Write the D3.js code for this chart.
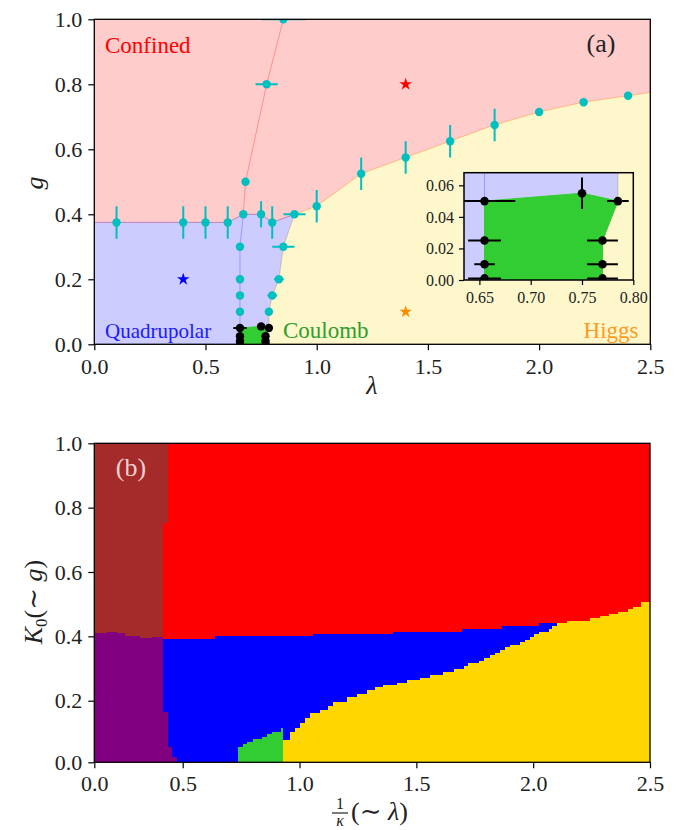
<!DOCTYPE html>
<html><head><meta charset="utf-8">
<script src="https://cdnjs.cloudflare.com/ajax/libs/d3/7.8.5/d3.min.js"></script>
<style>
body{margin:0;background:#fff}
svg{display:block}
text{font-family:"Liberation Serif","DejaVu Serif","Noto Serif",serif}
</style>
</head><body>
<svg id="chart" width="681" height="830"></svg>
<script>
// ================= Panel (a) data =================
// cyan data points (lambda, g) with error bars
const cyanLambda    = [0.1, 0.4, 0.5, 0.6, 0.67, 0.75, 0.8, 0.9, 1.0, 0.655, 0.655, 0.655, 0.655, 0.85, 0.83, 0.8, 0.785, 0.68, 0.775, 0.85, 1.2, 1.4, 1.6, 1.8, 2.0, 2.2, 2.4];
const cyanG         = [0.375, 0.375, 0.375, 0.375, 0.4, 0.4, 0.375, 0.4, 0.425, 0.3, 0.2, 0.15, 0.1, 0.3, 0.2, 0.15, 0.1, 0.5, 0.8, 1.0, 0.525, 0.575, 0.625, 0.675, 0.715, 0.745, 0.765];
const cyanLambdaErr = [0, 0, 0, 0, 0, 0, 0, 0.05, 0, 0, 0, 0, 0, 0.05, 0.022, 0.022, 0, 0, 0.05, 0.1, 0, 0, 0, 0, 0, 0, 0];
const cyanGErr      = [0.05, 0.05, 0.05, 0.05, 0, 0.04, 0.05, 0, 0.05, 0, 0, 0, 0, 0, 0, 0, 0, 0, 0, 0, 0.05, 0.05, 0.05, 0.05, 0, 0, 0];

// black (Coulomb) data points
const blackLambda    = [0.655, 0.655, 0.655, 0.655, 0.75, 0.785, 0.77, 0.77, 0.77];
const blackG         = [0.05, 0.025, 0.01, 0.001, 0.055, 0.05, 0.025, 0.01, 0.001];
const blackLambdaErr = [0.03, 0.016, 0.01, 0.016, 0, 0.0105, 0.015, 0.015, 0.015];
const blackGErr      = [0, 0, 0, 0, 0.01, 0, 0, 0, 0];

// stars
const starLambda = [1.4, 0.4, 1.4];
const starG      = [0.8, 0.2, 0.1];
const starColor  = ["#ff0000", "#0000ff", "#ff8c00"];

// phase boundaries
const confinedEdgeLambda = [0, 0.6, 0.67, 0.75, 0.8, 0.9, 1.0, 1.2, 1.4, 1.6, 1.8, 2.0, 2.2, 2.4, 2.5];
const confinedEdgeG      = [0.375, 0.375, 0.4, 0.4, 0.375, 0.4, 0.425, 0.525, 0.575, 0.625, 0.675, 0.715, 0.745, 0.765, 0.775];
const higgsEdgeLambda = [0.77, 0.77, 0.785, 0.785, 0.8, 0.83, 0.85, 0.9];
const higgsEdgeG      = [0, 0.025, 0.05, 0.1, 0.15, 0.2, 0.3, 0.4];
const coulombLambda = [0.655, 0.655, 0.75, 0.785, 0.77, 0.77];
const coulombG      = [0, 0.05, 0.055, 0.05, 0.025, 0];
const pinkLineLambda = [0.67, 0.68, 0.775, 0.85];
const pinkLineG      = [0.4, 0.5, 0.8, 1.0];
const blueLineLambda = [0.655, 0.655, 0.67];
const blueLineG      = [0.05, 0.3, 0.4];

const ticksA  = [0, 0.5, 1.0, 1.5, 2.0, 2.5];
const ticksAy = [0, 0.2, 0.4, 0.6, 0.8, 1.0];
const insetTicksX = [0.65, 0.70, 0.75, 0.80];
const insetTicksY = [0, 0.02, 0.04, 0.06];

// ================= Panel (b) data (step boundaries) =================
const brownRightLambda = [0.415, 0.39];
const brownRightTopG   = [1.0, 0.752];
const purpleTopLambda = [0, 0.070, 0.098, 0.127, 0.174, 0.258, 0.325];
const purpleTopG      = [0.41, 0.413, 0.415, 0.41, 0.402, 0.394, 0.399];
const purpleRightLambda  = [0.39, 0.415, 0.441, 0.469];
const purpleRightBottomG = [0.164, 0.051, 0.018, 0];
const blueTopLambda = [0.39, 0.638, 1.057, 1.40, 1.695, 1.866, 2.023];
const blueTopG      = [0.391, 0.401, 0.408, 0.415, 0.423, 0.431, 0.44];
const blueEnd = 2.102;
const yellowTopLambda = [0.93, 0.96, 0.981, 1.002, 1.024, 1.045, 1.088, 1.124, 1.145, 1.202, 1.245, 1.288, 1.324, 1.359, 1.417, 1.459, 1.516, 1.559, 1.616, 1.659, 1.702, 1.723, 1.766, 1.788, 1.816, 1.838, 1.859, 1.880, 1.902, 1.945, 1.966, 1.988, 2.002, 2.023, 2.066, 2.081, 2.102, 2.145, 2.242, 2.285, 2.325, 2.362, 2.404, 2.427, 2.463];
const yellowTopG      = [0.072, 0.099, 0.110, 0.127, 0.143, 0.159, 0.170, 0.183, 0.197, 0.213, 0.221, 0.234, 0.242, 0.248, 0.256, 0.264, 0.271, 0.279, 0.289, 0.298, 0.308, 0.316, 0.324, 0.333, 0.341, 0.349, 0.357, 0.366, 0.373, 0.381, 0.390, 0.398, 0.406, 0.415, 0.423, 0.432, 0.4425, 0.448, 0.456, 0.464, 0.470, 0.477, 0.485, 0.492, 0.506];
const yellowEnd = 2.5;
const greenTopLambda = [0.738, 0.760, 0.777, 0.802, 0.838, 0.860, 0.881, 0.920];
const greenTopG      = [0.051, 0.059, 0.067, 0.075, 0.083, 0.092, 0.099, 0.110];
const greenEnd = 0.93;

const ticksB  = [0, 0.5, 1.0, 1.5, 2.0, 2.5];
const ticksBy = [0, 0.2, 0.4, 0.6, 0.8, 1.0];

// ================= drawing =================
const FONT = '"Liberation Serif","DejaVu Serif","Noto Serif",serif';
const svg = d3.select("#chart");
const defs = svg.append("defs");
const zip = (a, b) => a.map((v, i) => [v, b[i]]);

function styleAxis(g, fs) {
  g.attr("font-family", null);
  g.select(".domain").remove();
  g.selectAll(".tick line").attr("stroke", "#000").attr("stroke-width", 1.2);
  g.selectAll(".tick text").attr("fill", "#222").style("font-family", FONT).style("font-size", fs + "px");
}

// ---------- Panel (a) ----------
const A = {l: 94.3, r: 650.3, t: 19.3, b: 344.3};
const xA = d3.scaleLinear().domain([0, 2.5]).range([A.l, A.r]);
const yA = d3.scaleLinear().domain([0, 1]).range([A.b, A.t]);

const confinedEdge = zip(confinedEdgeLambda, confinedEdgeG);
const higgsEdge = zip(higgsEdgeLambda, higgsEdgeG);
const triple = confinedEdgeLambda.indexOf(0.9);
const pinkPoly = [[0, 1], [2.5, 1], ...confinedEdge.slice().reverse()];
const lavPoly = [[0, 0], ...confinedEdge.slice(0, triple + 1), ...higgsEdge.slice().reverse()];
const yellowPoly = [...higgsEdge, ...confinedEdge.slice(triple + 1), [2.5, 0]];
const coulombPoly = zip(coulombLambda, coulombG);

function drawPhase(g, x, y, r, ew) {
  const line = d3.line().x(d => x(d[0])).y(d => y(d[1]));
  const poly = (pts, c) => g.append("path").attr("d", line(pts) + "Z")
    .attr("fill", c).attr("fill-opacity", 0.2)
    .attr("stroke", c).attr("stroke-opacity", 0.2).attr("stroke-width", 1);
  poly(pinkPoly, "#ff0000");
  poly(lavPoly, "#0000ff");
  poly(yellowPoly, "#ffd700");
  g.append("path").attr("d", line(coulombPoly) + "Z").attr("fill", "#32cd32")
    .attr("stroke", "#32cd32").attr("stroke-width", 1);
  g.append("path").attr("d", line(zip(pinkLineLambda, pinkLineG))).attr("fill", "none")
    .attr("stroke", "#ff0000").attr("stroke-opacity", 0.3).attr("stroke-width", 1);
  g.append("path").attr("d", line(zip(blueLineLambda, blueLineG))).attr("fill", "none")
    .attr("stroke", "#0000ff").attr("stroke-opacity", 0.25).attr("stroke-width", 1);

  function errs(ls, gs, le, ge, col) {
    ls.forEach((l, i) => {
      if (le[i] > 0) g.append("line").attr("x1", x(l - le[i])).attr("x2", x(l + le[i]))
        .attr("y1", y(gs[i])).attr("y2", y(gs[i])).attr("stroke", col).attr("stroke-width", ew);
      if (ge[i] > 0) g.append("line").attr("x1", x(l)).attr("x2", x(l))
        .attr("y1", y(gs[i] - ge[i])).attr("y2", y(gs[i] + ge[i])).attr("stroke", col).attr("stroke-width", ew);
    });
    g.selectAll(null).data(ls).enter().append("circle")
      .attr("cx", d => x(d)).attr("cy", (d, i) => y(gs[i])).attr("r", r).attr("fill", col);
  }
  errs(cyanLambda, cyanG, cyanLambdaErr, cyanGErr, "#00bfbf");
  errs(blackLambda, blackG, blackLambdaErr, blackGErr, "#000");

  g.selectAll(null).data(starLambda).enter().append("path")
    .attr("d", d3.symbol(d3.symbolStar, 50))
    .attr("transform", (d, i) => `translate(${x(d)},${y(starG[i])})`)
    .attr("fill", (d, i) => starColor[i]);
}

defs.append("clipPath").attr("id", "clipA").append("rect")
  .attr("x", A.l).attr("y", A.t).attr("width", A.r - A.l).attr("height", A.b - A.t);
const gA = svg.append("g").attr("clip-path", "url(#clipA)");
drawPhase(gA, xA, yA, 4.2, 2);

// labels in panel (a)
const lab = (x, y, t, c, fs, anchor) => svg.append("text").attr("x", x).attr("y", y).text(t)
  .attr("fill", c).style("font-family", FONT).style("font-size", fs + "px").attr("text-anchor", anchor || "start");
lab(105, 52.7, "Confined", "#ff0000", 23);
lab(601, 52, "(a)", "#222", 26, "middle");
lab(105, 338.3, "Quadrupolar", "#1a1aff", 21);
lab(283, 338.3, "Coulomb", "#2ca02c", 23);
lab(638.5, 338.3, "Higgs", "#ff9a1f", 23, "end");

svg.append("rect").attr("x", A.l).attr("y", A.t).attr("width", A.r - A.l).attr("height", A.b - A.t)
  .attr("fill", "none").attr("stroke", "#000").attr("stroke-width", 1.3);
const axA = svg.append("g").attr("transform", `translate(0,${A.b})`)
  .call(d3.axisBottom(xA).tickValues(ticksA).tickFormat(d3.format(".1f")).tickSize(6).tickPadding(8));
styleAxis(axA, 22);
const ayA = svg.append("g").attr("transform", `translate(${A.l},0)`)
  .call(d3.axisLeft(yA).tickValues(ticksAy).tickFormat(d3.format(".1f")).tickSize(6).tickPadding(6));
styleAxis(ayA, 22);
svg.append("text").attr("x", 372).attr("y", 394).attr("text-anchor", "middle").style("font-family", FONT)
  .style("font-size", "26px").style("font-style", "italic").attr("fill", "#222").text("λ");
svg.append("text").attr("transform", "translate(43,183) rotate(-90)").attr("text-anchor", "middle").style("font-family", FONT)
  .style("font-size", "26px").style("font-style", "italic").attr("fill", "#222").text("g");

// ---------- Inset ----------
const I = {l: 464, r: 633.3, t: 172.7, b: 280};
const xI = d3.scaleLinear().domain([0.635, 0.8]).range([I.l, I.r]);
const yI = d3.scaleLinear().domain([0, 0.068]).range([I.b, I.t]);
defs.append("clipPath").attr("id", "clipI").append("rect")
  .attr("x", I.l).attr("y", I.t).attr("width", I.r - I.l).attr("height", I.b - I.t);
svg.append("rect").attr("x", I.l).attr("y", I.t).attr("width", I.r - I.l).attr("height", I.b - I.t).attr("fill", "#fff");
const gI = svg.append("g").attr("clip-path", "url(#clipI)");
drawPhase(gI, xI, yI, 4.3, 2);
svg.append("rect").attr("x", I.l).attr("y", I.t).attr("width", I.r - I.l).attr("height", I.b - I.t)
  .attr("fill", "none").attr("stroke", "#000").attr("stroke-width", 1.5);
const axI = svg.append("g").attr("transform", `translate(0,${I.b})`)
  .call(d3.axisBottom(xI).tickValues(insetTicksX).tickFormat(d3.format(".2f")).tickSize(5).tickPadding(7));
styleAxis(axI, 16);
const ayI = svg.append("g").attr("transform", `translate(${I.l},0)`)
  .call(d3.axisLeft(yI).tickValues(insetTicksY).tickFormat(d3.format(".2f")).tickSize(5).tickPadding(5));
styleAxis(ayI, 16);

// ---------- Panel (b) ----------
const B = {l: 94.3, r: 650, t: 443.3, b: 762.3};
const xB = d3.scaleLinear().domain([0, 0.5, 2.5]).range([B.l, 182.7, B.r]);
const yB = d3.scaleLinear().domain([0, 0.2, 1]).range([B.b, 700.7, B.t]);
defs.append("clipPath").attr("id", "clipB").append("rect")
  .attr("x", B.l).attr("y", B.t).attr("width", B.r - B.l).attr("height", B.b - B.t);
const gB = svg.append("g").attr("clip-path", "url(#clipB)");
const lineB = d3.line().x(d => xB(d[0])).y(d => yB(d[1]));
const fillB = (pts, c) => gB.append("path").attr("d", lineB(pts) + "Z").attr("fill", c)
  .attr("shape-rendering", "crispEdges");

function stepPoly(ls, gs, end) {
  const pts = [[ls[0], 0]];
  ls.forEach((l, i) => {
    pts.push([l, gs[i]]);
    pts.push([i < ls.length - 1 ? ls[i + 1] : end, gs[i]]);
  });
  pts.push([end, 0]);
  return pts;
}

// red background (confined)
fillB([[0, 0], [0, 1], [2.5, 1], [2.5, 0]], "#ff0000");
// brown
const brownPts = [[0, 1]];
brownRightLambda.forEach((l, i) => {
  brownPts.push([l, brownRightTopG[i]]);
  brownPts.push([l, i < brownRightLambda.length - 1 ? brownRightTopG[i + 1] : 0]);
});
brownPts.push([0, 0]);
fillB(brownPts, "#a52a2a");
fillB(stepPoly(blueTopLambda, blueTopG, blueEnd), "#0000ff");
fillB(stepPoly(yellowTopLambda, yellowTopG, yellowEnd), "#ffd700");
fillB(stepPoly(greenTopLambda, greenTopG, greenEnd), "#32cd32");
// purple
const purplePts = [[0, 0]];
purpleTopLambda.forEach((l, i) => {
  purplePts.push([l, purpleTopG[i]]);
  purplePts.push([i < purpleTopLambda.length - 1 ? purpleTopLambda[i + 1] : purpleRightLambda[0], purpleTopG[i]]);
});
purpleRightLambda.forEach((l, i) => {
  purplePts.push([l, purpleRightBottomG[i]]);
  if (i < purpleRightLambda.length - 1) purplePts.push([purpleRightLambda[i + 1], purpleRightBottomG[i]]);
});
fillB(purplePts, "#800080");

svg.append("text").attr("x", 131).attr("y", 476).attr("text-anchor", "middle").style("font-family", FONT)
  .style("font-size", "26px").attr("fill", "#ecd2d2").text("(b)");

svg.append("rect").attr("x", B.l).attr("y", B.t).attr("width", B.r - B.l).attr("height", B.b - B.t)
  .attr("fill", "none").attr("stroke", "#000").attr("stroke-width", 1.3);
const axB = svg.append("g").attr("transform", `translate(0,${B.b})`)
  .call(d3.axisBottom(xB).tickValues(ticksB).tickFormat(d3.format(".1f")).tickSize(6).tickPadding(7));
styleAxis(axB, 22);
const ayB = svg.append("g").attr("transform", `translate(${B.l},0)`)
  .call(d3.axisLeft(yB).tickValues(ticksBy).tickFormat(d3.format(".1f")).tickSize(6).tickPadding(6));
styleAxis(ayB, 22);

// x label: 1/κ (∼ λ)
svg.append("text").attr("x", 340).attr("y", 809).attr("text-anchor", "middle").style("font-family", FONT)
  .style("font-size", "16px").attr("fill", "#222").text("1");
svg.append("line").attr("x1", 332).attr("x2", 348).attr("y1", 813).attr("y2", 813)
  .attr("stroke", "#222").attr("stroke-width", 1.2);
svg.append("text").attr("x", 340).attr("y", 826).attr("text-anchor", "middle").style("font-family", FONT)
  .style("font-size", "16px").style("font-style", "italic").attr("fill", "#222").text("κ");
const xl = svg.append("text").attr("x", 351).attr("y", 820).style("font-family", FONT)
  .style("font-size", "26px").attr("fill", "#222");
xl.append("tspan").text("(∼ ");
xl.append("tspan").style("font-style", "italic").text("λ");
xl.append("tspan").text(")");

// y label: K0 (∼ g)
const yl = svg.append("text").attr("transform", "translate(42,602) rotate(-90)").attr("text-anchor", "middle")
  .style("font-family", FONT).style("font-size", "26px").attr("fill", "#222");
yl.append("tspan").style("font-style", "italic").text("K");
yl.append("tspan").attr("dy", 5).style("font-size", "17px").text("0");
yl.append("tspan").attr("dy", -5).text("(∼ ");
yl.append("tspan").style("font-style", "italic").text("g");
yl.append("tspan").text(")");
</script>
</body></html>
